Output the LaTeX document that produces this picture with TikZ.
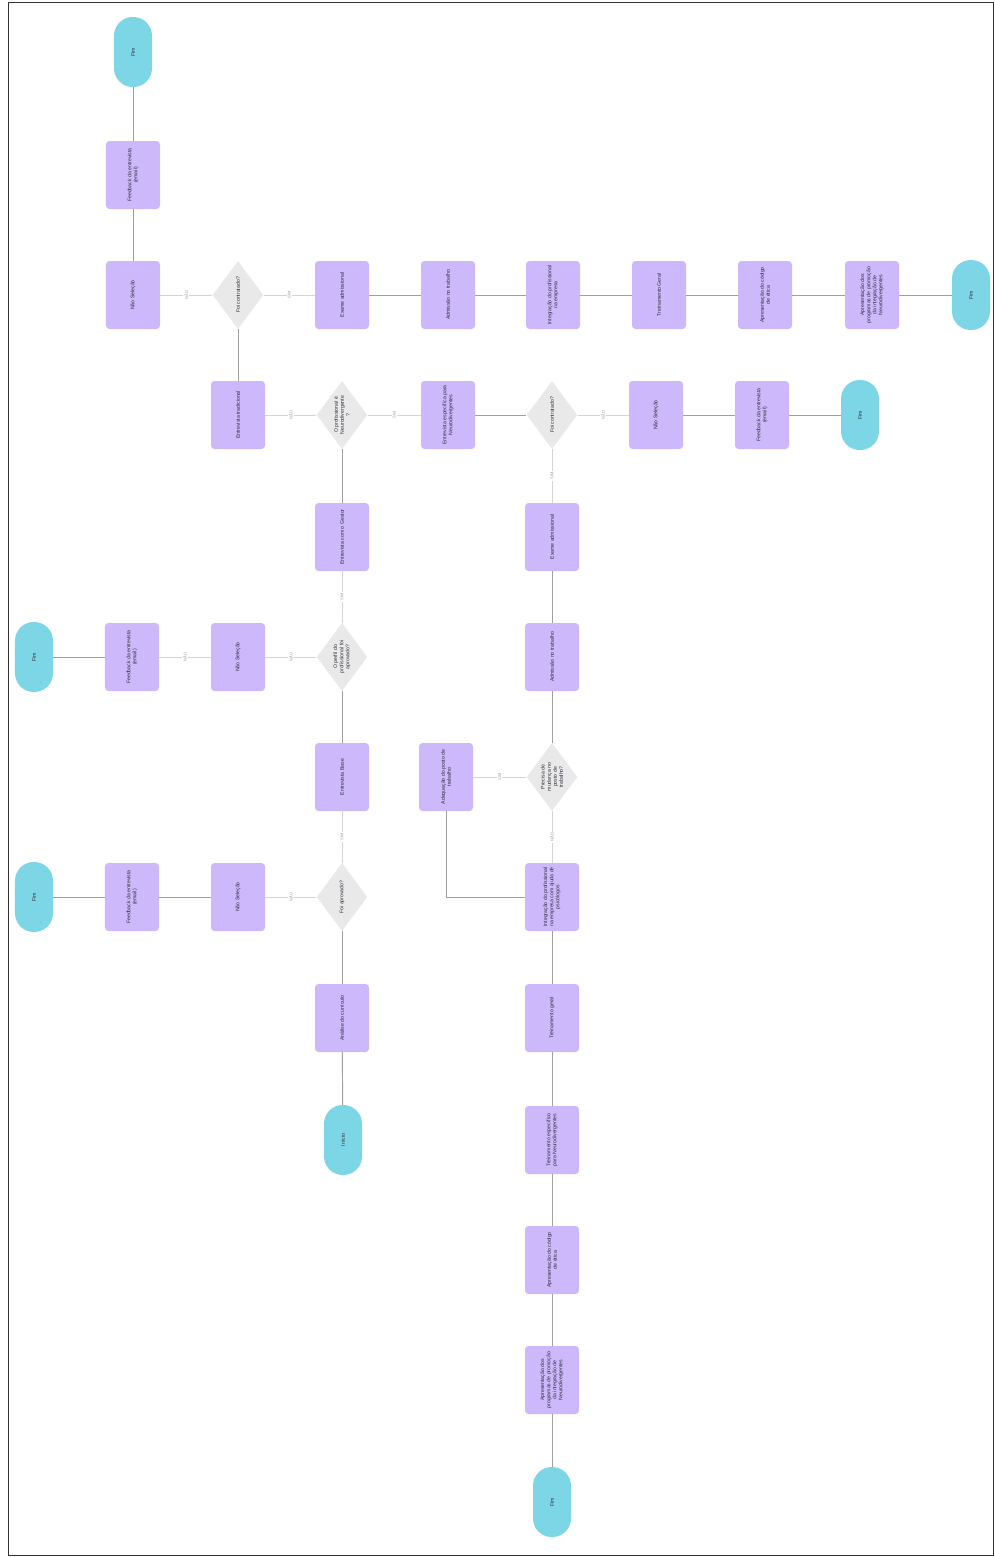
\documentclass[tikz,border=0pt]{standalone}
\usepackage{fontspec}
\setmainfont{Liberation Sans}
\usepackage{xcolor}
\definecolor{boxlilac}{HTML}{CDB8FC}
\definecolor{termcyan}{HTML}{7DD6E6}
\definecolor{choicegray}{HTML}{E9E9E9}
\definecolor{linegray}{HTML}{A0A0A0}
\definecolor{inkgray}{HTML}{2E2A3A}
\usetikzlibrary{shapes.geometric}
\newcommand{\boxfont}{\fontsize{4.4}{5.2}\selectfont}
\newcommand{\tagfont}{\fontsize{3.4}{4}\selectfont}

\tikzset{
  stepbox/.style={rectangle, rounded corners=3pt, fill=boxlilac, minimum width=2.04cm, minimum height=1.62cm,
    rotate=90, align=center, font=\boxfont, text=inkgray, inner sep=1pt},
  choice/.style={diamond, fill=choicegray, minimum width=2.04cm, minimum height=1.52cm, aspect=1.3,
    rotate=90, align=center, font=\boxfont, text=inkgray, inner sep=0pt},
  terminal/.style={rectangle, rounded corners=0.56cm, fill=termcyan, minimum width=2.1cm, minimum height=1.14cm,
    rotate=90, font=\boxfont, text=inkgray},
  link/.style={draw=linegray, line width=0.8pt},
  optlink/.style={draw=linegray!45, line width=0.6pt},
  tag/.style={font=\tagfont, text=black!40, fill=white, inner sep=1pt, rotate=90}
}

\begin{document}
\begin{tikzpicture}[x=0.03cm, y=-0.03cm]
\useasboundingbox (0,0) rectangle (994,1557);
\draw[black!80, line width=0.5pt] (8,2) rectangle (993,1555);

% ligne du haut
\node[terminal] (fimTop) at (133,52) {Fim};
\node[stepbox] (feedbackA) at (133,175) {Feedback da entrevista\\(email)};
\node[stepbox] (naoSelA) at (133,295) {Não Seleção};
\node[choice] (contratadoA) at (238,295) {Foi contratado?};
\node[stepbox] (exameA) at (342,295) {Exame admissional};
\node[stepbox] (admissaoA) at (448,295) {Admissão no trabalho};
\node[stepbox] (integracaoA) at (553,295) {Integração do profissional\\na empresa};
\node[stepbox] (treinoA) at (659,295) {Treinamento Geral};
\node[stepbox] (eticaA) at (765,295) {Apresentação do código\\de ética};
\node[stepbox] (programasA) at (872,295) {Apresentação dos\\programas de promoção\\da integração de\\Neurodivergentes};
\node[terminal] (fimA) at (971,295) {Fim};

% deuxieme ligne
\node[stepbox] (tradicional) at (238,415) {Entrevista tradicional};
\node[choice] (neuro) at (342,415) {O profissional é\\Neurodivergente\\?};
\node[stepbox] (especifica) at (448,415) {Entrevista específica para\\Neurodivergentes};
\node[choice] (contratadoB) at (552,415) {Foi contratado?};
\node[stepbox] (naoSelB) at (656,415) {Não Seleção};
\node[stepbox] (feedbackB) at (762,415) {Feedback da entrevista\\(email)};
\node[terminal] (fimB) at (860,415) {Fim};

\node[stepbox] (gestor) at (342,537) {Entrevista com o Gestor};
\node[stepbox] (exameB) at (552,537) {Exame admissional};

\node[terminal] (fimC) at (34,657) {Fim};
\node[stepbox] (feedbackC) at (132,657) {Feedback da entrevista\\(email)};
\node[stepbox] (naoSelC) at (238,657) {Não Seleção};
\node[choice] (perfil) at (342,657) {O perfil do\\profissional foi\\aprovado?};
\node[stepbox] (admissaoB) at (552,657) {Admissão no trabalho};

\node[stepbox] (base) at (342,777) {Entrevista Base};
\node[stepbox] (adequacao) at (446,777) {Adequação do posto de\\trabalho};
\node[choice] (mudanca) at (552,777) {Precisa de\\mudança no\\posto de\\trabalho?};

\node[terminal] (fimD) at (34,897) {Fim};
\node[stepbox] (feedbackD) at (132,897) {Feedback da entrevista\\(email)};
\node[stepbox] (naoSelD) at (238,897) {Não Seleção};
\node[choice] (aprovado) at (342,897) {Foi aprovado?};
\node[stepbox] (integracaoB) at (552,897) {Integração do profissional\\na empresa com ajuda de\\psicólogos};

\node[stepbox] (curriculo) at (342,1018) {Análise do currículo};
\node[stepbox] (treinoB) at (552,1018) {Treinamento geral};
\node[terminal] (inicio) at (343,1140) {Início};
\node[stepbox] (treinoND) at (552,1140) {Treinamento específico\\para Neurodivergentes};
\node[stepbox] (eticaB) at (552,1260) {Apresentação do código\\de ética};
\node[stepbox] (programasB) at (552,1380) {Apresentação dos\\programas de promoção\\da integração de\\Neurodivergentes};
\node[terminal] (fimE) at (552,1502) {Fim};

% liaisons simples
\foreach \a/\b in {fimTop/feedbackA, feedbackA/naoSelA, contratadoA/tradicional,
    exameA/admissaoA, admissaoA/integracaoA, integracaoA/treinoA, treinoA/eticaA,
    eticaA/programasA, programasA/fimA, especifica/contratadoB, naoSelB/feedbackB,
    feedbackB/fimB, neuro/gestor, fimC/feedbackC, perfil/base, exameB/admissaoB,
    admissaoB/mudanca, fimD/feedbackD, feedbackD/naoSelD, aprovado/curriculo,
    curriculo/inicio, integracaoB/treinoB, treinoB/treinoND, treinoND/eticaB,
    eticaB/programasB, programasB/fimE}
  \draw[link] (\a) -- (\b);
\draw[link] (adequacao) |- (integracaoB);

% liaisons avec choix
\draw[optlink] (contratadoA) -- node[tag] {NÃO} (naoSelA);
\draw[optlink] (contratadoA) -- node[tag] {SIM} (exameA);
\draw[optlink] (neuro) -- node[tag] {NÃO} (tradicional);
\draw[optlink] (neuro) -- node[tag] {SIM} (especifica);
\draw[optlink] (contratadoB) -- node[tag] {NÃO} (naoSelB);
\draw[optlink] (contratadoB) -- node[tag] {SIM} (exameB);
\draw[optlink] (gestor) -- node[tag] {SIM} (perfil);
\draw[optlink] (perfil) -- node[tag] {NÃO} (naoSelC);
\draw[optlink] (naoSelC) -- node[tag] {NÃO} (feedbackC);
\draw[optlink] (base) -- node[tag] {SIM} (aprovado);
\draw[optlink] (aprovado) -- node[tag] {NÃO} (naoSelD);
\draw[optlink] (mudanca) -- node[tag] {SIM} (adequacao);
\draw[optlink] (mudanca) -- node[tag] {NÃO} (integracaoB);
\end{tikzpicture}
\end{document}
